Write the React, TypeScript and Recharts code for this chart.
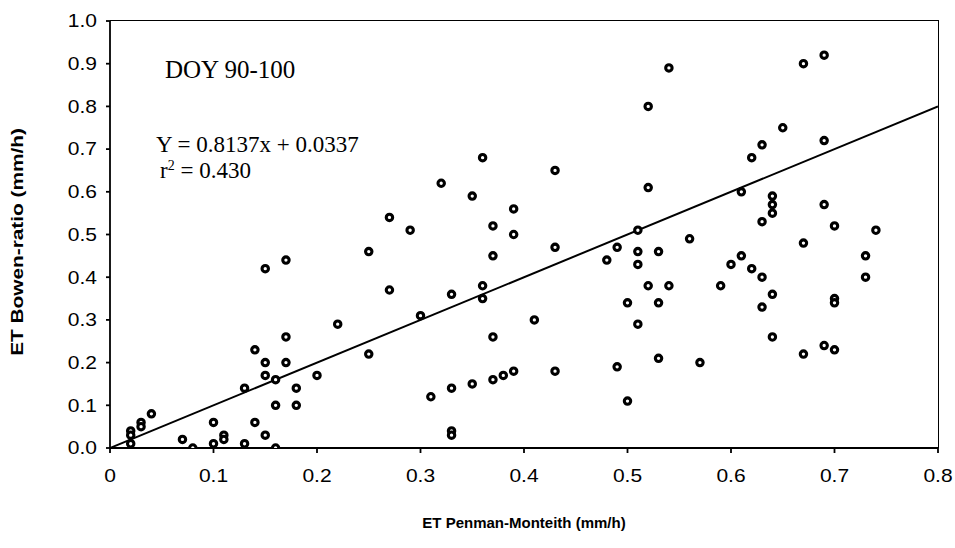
import { ScatterChart, Scatter, XAxis, YAxis } from "recharts";

// ET Penman-Monteith (x) vs ET Bowen-ratio (y), mm/h
const pmEt = [
  0.02, 0.02, 0.02, 0.03, 0.03, 0.04, 0.07, 0.08, 0.1, 0.1, 0.11, 0.11, 0.13,
  0.13, 0.14, 0.14, 0.15, 0.15, 0.15, 0.15, 0.16, 0.16, 0.16, 0.17, 0.17, 0.17,
  0.18, 0.18, 0.2, 0.22, 0.25, 0.25, 0.27, 0.27, 0.29, 0.3, 0.31, 0.32, 0.33,
  0.33, 0.33, 0.33, 0.35, 0.35, 0.36, 0.36, 0.36, 0.37, 0.37, 0.37, 0.37, 0.38,
  0.39, 0.39, 0.39, 0.41, 0.43, 0.43, 0.43, 0.48, 0.49, 0.49, 0.5, 0.5, 0.51,
  0.51, 0.51, 0.51, 0.52, 0.52, 0.52, 0.53, 0.53, 0.53, 0.54, 0.54, 0.56, 0.57,
  0.59, 0.6, 0.61, 0.61, 0.62, 0.62, 0.63, 0.63, 0.63, 0.63, 0.64, 0.64, 0.64,
  0.64, 0.64, 0.65, 0.67, 0.67, 0.67, 0.69, 0.69, 0.69, 0.69, 0.7, 0.7, 0.7,
  0.7, 0.73, 0.73, 0.74,
];
const brEt = [
  0.04, 0.03, 0.01, 0.06, 0.05, 0.08, 0.02, 0.0, 0.06, 0.01, 0.03, 0.02, 0.01,
  0.14, 0.23, 0.06, 0.2, 0.17, 0.03, 0.42, 0.16, 0.1, 0.0, 0.26, 0.2, 0.44,
  0.14, 0.1, 0.17, 0.29, 0.22, 0.46, 0.54, 0.37, 0.51, 0.31, 0.12, 0.62, 0.36,
  0.14, 0.04, 0.03, 0.59, 0.15, 0.68, 0.38, 0.35, 0.52, 0.45, 0.26, 0.16, 0.17,
  0.56, 0.5, 0.18, 0.3, 0.65, 0.47, 0.18, 0.44, 0.47, 0.19, 0.34, 0.11, 0.51,
  0.46, 0.43, 0.29, 0.8, 0.61, 0.38, 0.46, 0.34, 0.21, 0.89, 0.38, 0.49, 0.2,
  0.38, 0.43, 0.6, 0.45, 0.68, 0.42, 0.71, 0.53, 0.4, 0.33, 0.59, 0.57, 0.55,
  0.36, 0.26, 0.75, 0.9, 0.48, 0.22, 0.92, 0.72, 0.57, 0.24, 0.52, 0.35, 0.34,
  0.23, 0.45, 0.4, 0.51,
];

// line drawn on the plot
const lineX = [0, 0.8];
const lineY = [0, 0.8];

const xTicks = [0, 0.1, 0.2, 0.3, 0.4, 0.5, 0.6, 0.7, 0.8];
const yTicks = [0, 0.1, 0.2, 0.3, 0.4, 0.5, 0.6, 0.7, 0.8, 0.9, 1.0];

const points = pmEt.map((x, i) => ({ x, y: brEt[i] }));
const linePts = lineX.map((x, i) => ({ x, y: lineY[i] }));

const sans = "'Liberation Sans', Arial, sans-serif";
const serif = "'Liberation Serif', 'Times New Roman', serif";

const Ring = (props: any) => (
  <circle
    cx={props.cx}
    cy={props.cy}
    r={3.2}
    fill="#fff"
    stroke="#000"
    strokeWidth={3.1}
  />
);

const XTick = (props: any) => {
  const v: number = props.payload.value;
  return (
    <text
      transform={`translate(${props.x},${props.y}) scale(1.2,1)`}
      textAnchor="middle"
      dy="0.72em"
      fontSize={17.5}
      fontFamily={sans}
      fill="#000"
    >
      {v === 0 ? "0" : v.toFixed(1)}
    </text>
  );
};

const YTick = (props: any) => {
  const v: number = props.payload.value;
  return (
    <text
      transform={`translate(${props.x},${props.y}) scale(1.2,1)`}
      textAnchor="end"
      dy="0.36em"
      fontSize={17.5}
      fontFamily={sans}
      fill="#000"
    >
      {v.toFixed(1)}
    </text>
  );
};

export default function App() {
  return (
    <div
      style={{
        position: "absolute",
        left: 0,
        top: 0,
        width: 955,
        height: 548,
        background: "#fff",
      }}
    >
      <ScatterChart
        width={955}
        height={548}
        margin={{ top: 21, right: 17, left: 0, bottom: 70 }}
      >
        <XAxis
          type="number"
          dataKey="x"
          domain={[0, 0.8]}
          ticks={xTicks}
          height={30}
          tick={<XTick />}
          tickSize={5}
          tickMargin={16}
          stroke="#000"
          strokeWidth={1.8}
          allowDataOverflow
        />
        <YAxis
          type="number"
          dataKey="y"
          domain={[0, 1]}
          ticks={yTicks}
          width={110}
          tick={<YTick />}
          tickSize={4}
          tickMargin={9}
          stroke="#000"
          strokeWidth={1.8}
          allowDataOverflow
        />
        <Scatter
          data={linePts}
          line={{ stroke: "#000", strokeWidth: 2 }}
          shape={() => <g />}
          isAnimationActive={false}
        />
        <Scatter data={points} shape={Ring} isAnimationActive={false} />
      </ScatterChart>

      {/* top and right frame of the plot area */}
      <div
        style={{
          position: "absolute",
          left: 110,
          top: 20,
          width: 829,
          height: 428,
          borderTop: "1.8px solid #000",
          borderRight: "1.8px solid #000",
          boxSizing: "border-box",
          pointerEvents: "none",
        }}
      />

      <div
        style={{
          position: "absolute",
          left: 165,
          top: 57,
          fontFamily: serif,
          fontSize: 25,
          lineHeight: "25px",
          whiteSpace: "nowrap",
        }}
      >
        DOY 90-100
      </div>
      <div
        style={{
          position: "absolute",
          left: 156,
          top: 132,
          fontFamily: serif,
          fontSize: 23,
          lineHeight: "26px",
          whiteSpace: "nowrap",
        }}
      >
        <div>Y = 0.8137x + 0.0337</div>
        <div style={{ marginLeft: 4 }}>
          r
          <sup style={{ fontSize: 14, verticalAlign: "8px", lineHeight: 0 }}>
            2
          </sup>{" "}
          = 0.430
        </div>
      </div>
      <div
        style={{
          position: "absolute",
          left: 0,
          width: 1048,
          top: 514,
          textAlign: "center",
          fontFamily: sans,
          fontWeight: "bold",
          fontSize: 15,
        }}
      >
        ET Penman-Monteith (mm/h)
      </div>
      <div
        style={{
          position: "absolute",
          left: 18,
          top: 242,
          transform: "translate(-50%, -50%) rotate(-90deg) scaleX(1.3)",
          fontFamily: sans,
          fontWeight: "bold",
          fontSize: 16,
          whiteSpace: "nowrap",
        }}
      >
        ET Bowen-ratio (mm/h)
      </div>
    </div>
  );
}
